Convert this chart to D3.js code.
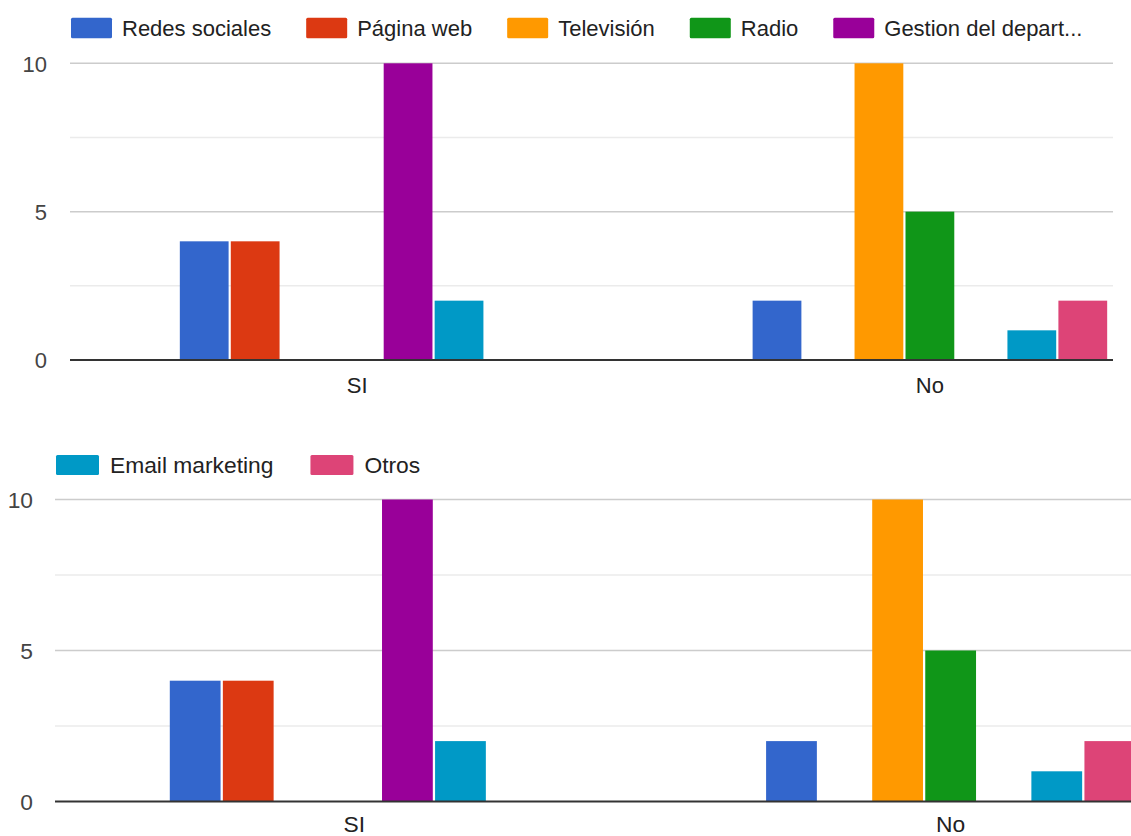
<!DOCTYPE html>
<html>
<head>
<meta charset="utf-8">
<script src="https://cdn.jsdelivr.net/npm/d3@7/dist/d3.min.js"></script>
<style>
  html, body { margin: 0; padding: 0; background: #fff; overflow: hidden; }
  svg { display: block; font-family: "Liberation Sans", Arial, sans-serif; }
</style>
</head>
<body>
<svg id="chart" width="1131" height="836"></svg>
<script>
// Responses grouped by answer (SI / No), one bar per channel
const categories = ["SI", "No"];
const seriesNames = ["Redes sociales", "Página web", "Televisión", "Radio", "Gestion del depart...", "Email marketing", "Otros"];
const seriesColors = ["#3366cc", "#dc3912", "#ff9900", "#109618", "#990099", "#0099c6", "#dd4477"];
const valuesSI = [4, 4, 0, 0, 10, 2, 0];
const valuesNo = [2, 0, 10, 5, 0, 1, 2];
const yTickValues = [0, 5, 10];
const yMinorValues = [2.5, 7.5];

const valuesByCategory = { SI: valuesSI, No: valuesNo };

const svg = d3.select("#chart");

// Two panels of the same chart; the legend wraps onto the second one
const panels = [
  { plotLeft: 70, plotRight: 1113, yZero: 360, yTop: 63.3, band: [71, 1216],
    legendSeries: [0, 1, 2, 3, 4], legendX: 71, legendY: 28, font: 22,
    swW: 41, swH: 20.6, gapText: 10, gapItem: 35, catY: 385, tickRight: 47 },
  { plotLeft: 55, plotRight: 1131, yZero: 801.5, yTop: 499.5, band: [56.5, 1248.5],
    legendSeries: [5, 6], legendX: 56, legendY: 465, font: 22.8,
    swW: 43, swH: 20, gapText: 11, gapItem: 37, catY: 824, tickRight: 33 }
];

panels.forEach(p => {
  const g = svg.append("g");

  const y = d3.scaleLinear().domain([0, 10]).range([p.yZero, p.yTop]);
  const x0 = d3.scaleBand().domain(categories).range(p.band)
    .paddingInner(0.381).paddingOuter(0.19);
  const x1 = d3.scaleBand().domain(seriesNames).range([0, x0.bandwidth()])
    .paddingInner(0.043).paddingOuter(0);

  // minor gridlines
  g.selectAll("line.minor").data(yMinorValues).join("line")
    .attr("x1", p.plotLeft).attr("x2", p.plotRight)
    .attr("y1", d => y(d)).attr("y2", d => y(d))
    .attr("stroke", "#ebebeb").attr("stroke-width", 1.5);

  // major gridlines
  g.selectAll("line.major").data(yTickValues.filter(v => v !== 0)).join("line")
    .attr("x1", p.plotLeft).attr("x2", p.plotRight)
    .attr("y1", d => y(d)).attr("y2", d => y(d))
    .attr("stroke", "#cccccc").attr("stroke-width", 1.5);

  // bars
  const groups = g.selectAll("g.cat").data(categories).join("g")
    .attr("transform", c => `translate(${x0(c)},0)`);
  groups.selectAll("rect")
    .data(c => seriesNames.map((s, i) => ({ s, i, v: valuesByCategory[c][i] })).filter(d => d.v > 0))
    .join("rect")
    .attr("x", d => x1(d.s))
    .attr("width", x1.bandwidth())
    .attr("y", d => y(d.v))
    .attr("height", d => y(0) - y(d.v))
    .attr("fill", d => seriesColors[d.i]);

  // baseline
  g.append("line")
    .attr("x1", p.plotLeft).attr("x2", p.plotRight)
    .attr("y1", y(0)).attr("y2", y(0))
    .attr("stroke", "#333").attr("stroke-width", 2);

  // y tick labels
  const yAxis = d3.axisLeft(y).tickValues(yTickValues).tickSize(0).tickPadding(0);
  const ya = g.append("g").attr("transform", `translate(${p.tickRight},0)`).call(yAxis);
  ya.select(".domain").remove();
  ya.selectAll("text")
    .attr("font-size", p.font).attr("fill", "#444")
    .attr("font-family", "'Liberation Sans', Arial, sans-serif")
    .attr("dy", "0.36em");

  // category labels
  const xAxis = d3.axisBottom(x0).tickSize(0).tickPadding(0);
  const xa = g.append("g").attr("transform", `translate(0,${p.catY})`).call(xAxis);
  xa.select(".domain").remove();
  xa.selectAll("text")
    .attr("font-size", p.font).attr("fill", "#222")
    .attr("font-family", "'Liberation Sans', Arial, sans-serif")
    .attr("y", 0).attr("dy", "0.36em");

  // legend
  const lg = g.append("g").attr("transform", `translate(${p.legendX},${p.legendY})`);
  let cx = 0;
  p.legendSeries.forEach(i => {
    const item = lg.append("g").attr("transform", `translate(${cx},0)`);
    item.append("rect")
      .attr("x", 0).attr("y", -p.swH / 2)
      .attr("width", p.swW).attr("height", p.swH)
      .attr("rx", 1.5)
      .attr("fill", seriesColors[i]);
    const t = item.append("text")
      .attr("x", p.swW + p.gapText).attr("y", 0).attr("dy", "0.36em")
      .attr("font-size", p.font).attr("fill", "#222")
      .text(seriesNames[i]);
    cx += p.swW + p.gapText + t.node().getComputedTextLength() + p.gapItem;
  });
});
</script>
</body>
</html>
